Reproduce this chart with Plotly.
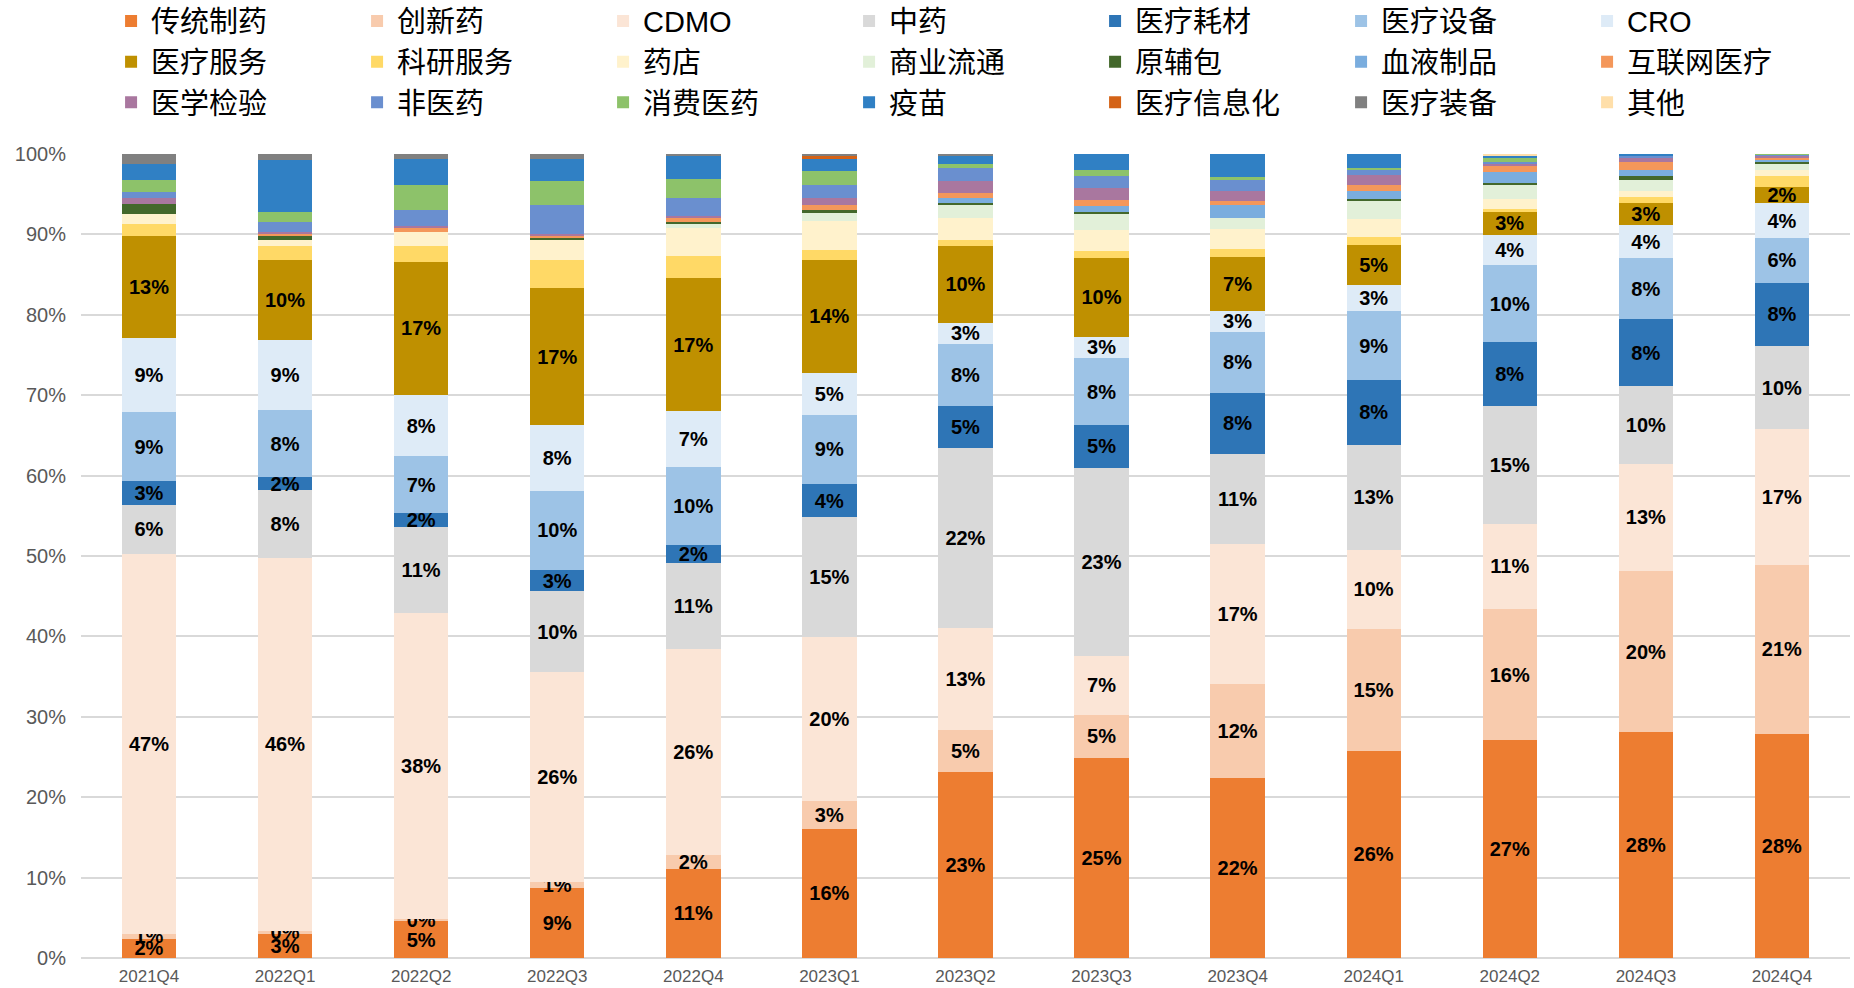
import plotly.graph_objects as go

quarters = ["2021Q4", "2022Q1", "2022Q2", "2022Q3", "2022Q4", "2023Q1", "2023Q2",
            "2023Q3", "2023Q4", "2024Q1", "2024Q2", "2024Q3", "2024Q4"]

# percent share of each segment per quarter (bottom to top)
traditional   = [2.4, 3.0, 4.6, 8.7, 11.1, 16.1, 23.1, 24.9, 22.4, 25.8, 27.1, 28.1, 27.9]
innovative    = [0.6, 0.4, 0.3, 0.7, 1.7, 3.4, 5.2, 5.3, 11.7, 15.1, 16.3, 20.0, 21.0]
cdmo          = [47.3, 46.4, 38.0, 26.2, 25.6, 20.4, 12.8, 7.4, 17.4, 9.9, 10.6, 13.4, 16.9]
tcm           = [6.1, 8.4, 10.7, 10.0, 10.7, 14.9, 22.3, 23.4, 11.2, 13.0, 14.6, 9.6, 10.3]
consumables   = [2.9, 1.6, 1.7, 2.7, 2.3, 4.1, 5.2, 5.3, 7.6, 8.1, 8.0, 8.35, 7.9]
devices       = [8.6, 8.3, 7.1, 9.8, 9.7, 8.7, 7.8, 8.3, 7.6, 8.55, 9.6, 7.6, 5.6]
cro           = [9.2, 8.8, 7.6, 8.2, 6.9, 5.2, 2.6, 2.7, 2.6, 3.3, 3.7, 4.1, 4.25]
med_services  = [12.65, 9.9, 16.6, 17.0, 16.6, 14.0, 9.6, 9.8, 6.7, 4.95, 3.0, 2.7, 2.0]
research_svc  = [1.5, 1.7, 1.9, 3.5, 2.7, 1.2, 0.65, 0.8, 1.0, 1.0, 0.2, 0.75, 1.45]
pharmacy      = [1.25, 0.75, 1.75, 2.45, 3.45, 3.7, 2.75, 2.7, 2.45, 2.2, 1.3, 0.75, 0.75]
distribution  = [0, 0, 0, 0, 0.5, 1.0, 1.7, 2.0, 1.45, 2.2, 1.7, 1.45, 0.75]
excipients    = [1.25, 0.5, 0, 0.25, 0.25, 0.3, 0.25, 0.2, 0, 0.3, 0.25, 0.5, 0.25]
blood         = [0, 0, 0, 0, 0, 0, 0.55, 0.7, 1.5, 0.95, 1.45, 0.75, 0.25]
internet_med  = [0, 0.25, 0.5, 0.25, 0.5, 0.7, 0.7, 0.8, 0.5, 0.75, 0.75, 1.0, 0.25]
lab_testing   = [0.75, 0.25, 0.25, 0.25, 0.25, 0.8, 1.5, 1.5, 1.25, 1.25, 0.25, 0.5, 0.25]
non_pharma    = [0.75, 1.25, 2.0, 3.7, 2.25, 1.7, 1.5, 1.5, 1.45, 0.75, 0.25, 0.25, 0.1]
consumer_med  = [1.5, 1.25, 3.2, 3.0, 2.4, 1.7, 0.5, 0.7, 0.3, 0.2, 0.45, 0, 0.1]
vaccine       = [2.0, 6.45, 3.2, 2.7, 2.8, 1.5, 1.0, 2.0, 2.9, 1.7, 0.3, 0.2, 0]
med_it        = [0, 0, 0, 0, 0, 0.4, 0, 0, 0, 0, 0, 0, 0]
med_equipment = [1.25, 0.8, 0.6, 0.6, 0.3, 0.2, 0.3, 0, 0, 0, 0, 0, 0]
others        = [0, 0, 0, 0, 0, 0, 0, 0, 0, 0, 0.2, 0, 0]

y_tick_vals = [0, 10, 20, 30, 40, 50, 60, 70, 80, 90, 100]
y_tick_text = ["0%", "10%", "20%", "30%", "40%", "50%", "60%", "70%", "80%", "90%", "100%"]

series_names = ["传统制药", "创新药", "CDMO", "中药", "医疗耗材", "医疗设备", "CRO",
                "医疗服务", "科研服务", "药店", "商业流通", "原辅包", "血液制品", "互联网医疗",
                "医学检验", "非医药", "消费医药", "疫苗", "医疗信息化", "医疗装备", "其他"]
series_values = [traditional, innovative, cdmo, tcm, consumables, devices, cro,
                 med_services, research_svc, pharmacy, distribution, excipients, blood,
                 internet_med, lab_testing, non_pharma, consumer_med, vaccine, med_it,
                 med_equipment, others]
series_colors = ["#ED7D31", "#F8CBAD", "#FBE5D6", "#D9D9D9", "#2E75B6", "#9DC3E6", "#DEEBF7",
                 "#BF9000", "#FFD966", "#FFF2CC", "#E2F0D9", "#43682B", "#7AADDE", "#F4975A",
                 "#A9779F", "#6A8FCF", "#8DC26A", "#3080C4", "#D46317", "#808080", "#FFDFAA"]
labeled_series = 8  # first eight series carry data labels

fig = go.Figure()
for i, (name, vals, col) in enumerate(zip(series_names, series_values, series_colors)):
    show = i < labeled_series
    fig.add_trace(go.Bar(
        name=name, x=quarters, y=vals,
        marker=dict(color=col, line=dict(width=0)),
        texttemplate="%{y:.0f}%" if show else None,
        textposition="inside" if show else "none",
        insidetextanchor="middle",
        textangle=0,
        constraintext="none",
        textfont=dict(family="Liberation Sans, Arial, sans-serif", size=20, color="#000000",
                      weight="bold"),
        hoverinfo="skip",
    ))

fig.update_layout(
    barmode="stack",
    bargap=0.6,
    width=1854, height=988,
    paper_bgcolor="white", plot_bgcolor="white",
    margin=dict(l=81, r=4, t=154, b=30, autoexpand=False),
    font=dict(family="Liberation Sans, Noto Sans CJK SC, sans-serif"),
    legend=dict(
        orientation="h",
        x=0.017, xanchor="left",
        y=1.197, yanchor="top", yref="paper",
        entrywidth=201, entrywidthmode="pixels",
        itemwidth=30,
        font=dict(family="Liberation Sans, Noto Sans CJK SC, sans-serif", size=29, color="#000000"),
        traceorder="normal",
        bgcolor="rgba(0,0,0,0)",
    ),
)
fig.update_xaxes(
    type="category",
    showgrid=False, showline=False, ticks="",
    tickfont=dict(family="Liberation Sans, Arial, sans-serif", size=17, color="#595959"),
    ticklabelstandoff=6,
)
fig.update_yaxes(
    range=[0, 100],
    tickvals=y_tick_vals, ticktext=y_tick_text,
    showgrid=True, gridcolor="#D9D9D9", gridwidth=2,
    zeroline=True, zerolinecolor="#D9D9D9", zerolinewidth=2,
    showline=False, ticks="",
    tickfont=dict(family="Liberation Sans, Arial, sans-serif", size=20, color="#595959"),
    ticklabelstandoff=14,
)

fig.write_html("out.html", config={"displayModeBar": False},
               post_script="document.body.style.margin='0';")
